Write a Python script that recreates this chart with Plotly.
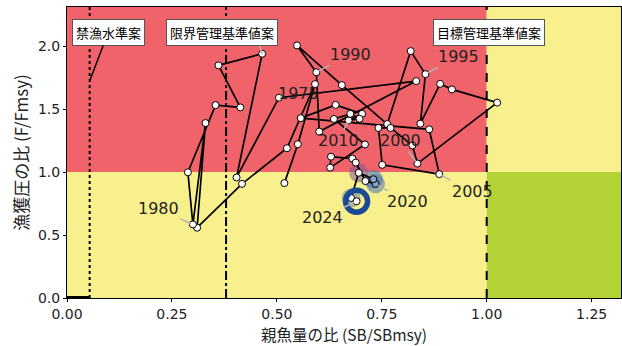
import plotly.graph_objects as go

# Kobe plot trajectory: spawning biomass ratio vs fishing pressure ratio
years = list(range(1973, 2025))
sb_ratio = [0.518, 0.550, 0.591, 0.524, 0.417, 0.310, 0.330, 0.300, 0.288, 0.354,
            0.413, 0.361, 0.465, 0.404, 0.505, 0.832, 0.601, 0.594, 0.548, 0.655,
            0.763, 0.819, 0.854, 0.842, 0.889, 0.917, 1.025, 0.835, 0.823, 0.771,
            0.742, 0.751, 0.887, 0.863, 0.557, 0.640, 0.703, 0.671, 0.697, 0.675,
            0.636, 0.710, 0.627, 0.629, 0.680, 0.688, 0.711, 0.735, 0.730, 0.695,
            0.677, 0.690]
f_ratio = [0.912, 1.221, 1.698, 1.189, 0.906, 0.558, 1.389, 0.584, 0.998, 1.531,
           1.513, 1.847, 1.939, 0.957, 1.590, 1.722, 1.321, 1.792, 2.005, 1.690,
           1.381, 1.960, 1.777, 1.384, 1.700, 1.656, 1.551, 1.067, 1.211, 1.350,
           1.350, 1.057, 0.983, 1.339, 1.428, 1.533, 1.462, 1.410, 1.423, 1.462,
           1.421, 1.219, 1.035, 1.122, 1.107, 1.075, 0.928, 0.906, 0.943, 0.994,
           0.794, 0.768]

# reference points (ratio to SBmsy)
ban_level = 0.054
limit_level = 0.379
target_level = 1.0

label_years = [1975, 1980, 1990, 1995, 2000, 2005, 2010, 2020, 2024]
label_text_pos = [(0.551, 1.627), (0.217, 0.708), (0.675, 1.934),
                  (0.932, 1.918), (0.794, 1.250), (0.965, 0.849), (0.646, 1.250),
                  (0.812, 0.763), (0.608, 0.637)]
hidden_label_year = 1985  # its label sits under the limit-reference box

recent_years = [2020, 2021, 2022, 2023]
recent_halo = ["rgba(90,125,180,0.6)", "rgba(80,120,180,0.6)",
               "rgba(125,85,155,0.55)", "rgba(100,135,165,0.55)"]
recent_fill = ["#86A3CF", "#86A3CF", "white", "white"]

XMAX, YMAX = 1.32, 2.31
RED, YELLOW, GREEN = "#F0636A", "#F8F08C", "#B3D236"

fig = go.Figure()

# background zones
zones = [(0, target_level, 1, YMAX, RED), (0, target_level, 0, 1, YELLOW),
         (target_level, XMAX, 1, YMAX, YELLOW), (target_level, XMAX, 0, 1, GREEN)]
for x0, x1, y0, y1, c in zones:
    fig.add_shape(type="rect", x0=x0, x1=x1, y0=y0, y1=y1, fillcolor=c,
                  line_width=0, layer="below")

# reference lines
fig.add_shape(type="line", x0=ban_level, x1=ban_level, y0=0, y1=YMAX,
              line=dict(color="black", width=2, dash="dot"))
fig.add_shape(type="line", x0=limit_level, x1=limit_level, y0=0, y1=YMAX,
              line=dict(color="black", width=2, dash="dashdot"))
fig.add_shape(type="line", x0=target_level, x1=target_level, y0=0, y1=YMAX,
              line=dict(color="black", width=2, dash="dash"))
fig.add_shape(type="line", x0=0, x1=ban_level, y0=0, y1=0,
              line=dict(color="black", width=4))

# halos on recent years
idx = [years.index(y) for y in recent_years]
fig.add_trace(go.Scatter(x=[sb_ratio[i] for i in idx], y=[f_ratio[i] for i in idx],
                         mode="markers", hoverinfo="skip",
                         marker=dict(size=19, color=recent_halo, line_width=0)))

# trajectory
fills = ["white"] * len(years)
for i, c in zip(idx, recent_fill):
    fills[i] = c
fig.add_trace(go.Scatter(x=sb_ratio, y=f_ratio, mode="lines+markers",
                         line=dict(color="black", width=1.7),
                         marker=dict(size=7, color=fills,
                                     line=dict(color="black", width=1))))

# latest year ring
fig.add_trace(go.Scatter(x=[sb_ratio[-1]], y=[f_ratio[-1]], mode="markers",
                         marker=dict(symbol="circle-open", size=22, color="#1B4A96",
                                     line=dict(width=5.5, color="#1B4A96"))))

font_num = "DejaVu Sans, Noto Sans CJK JP, sans-serif"
font_jp = "Noto Sans CJK JP, DejaVu Sans, sans-serif"

# year labels with leader lines
for yr, (tx, ty) in zip(label_years, label_text_pos):
    i = years.index(yr)
    fig.add_annotation(x=sb_ratio[i], y=f_ratio[i], ax=tx, ay=ty,
                       xref="x", yref="y", axref="x", ayref="y",
                       text=str(yr), showarrow=True, arrowhead=0,
                       arrowwidth=1.5, arrowcolor="#B4B4B4", standoff=3,
                       font=dict(family=font_num, size=16, color="#222222"))

# leader of the label hidden under the limit-reference box
hi = years.index(hidden_label_year)
fig.add_shape(type="line", x0=sb_ratio[hi] - 0.012, y0=2.07,
              x1=sb_ratio[hi], y1=f_ratio[hi],
              line=dict(color="#B4B4B4", width=1.5))

# reference point labels
fig.add_annotation(x=ban_level, y=1.722, ax=0.098, ay=2.107,
                   xref="x", yref="y", axref="x", ayref="y",
                   text="禁漁水準案", showarrow=True, arrowhead=0, arrowwidth=1.5,
                   arrowcolor="black", bgcolor="white", bordercolor="#555555",
                   borderwidth=1, borderpad=3,
                   font=dict(family=font_jp, size=13, color="black"))
for txt, cx in [("限界管理基準値案", 0.370), ("目標管理基準値案", 1.006)]:
    fig.add_annotation(x=cx, y=2.107, xref="x", yref="y", text=txt,
                       showarrow=False, bgcolor="white", bordercolor="#555555",
                       borderwidth=1, borderpad=3,
                       font=dict(family=font_jp, size=13, color="black"))

# x-axis title placed below the tick labels
fig.add_annotation(x=0.5, y=-0.1254, xref="paper", yref="paper",
                   xanchor="center", yanchor="middle", showarrow=False,
                   text="親魚量の比 (SB/SBmsy)",
                   font=dict(family=font_jp, size=15.5, color="#222222"))

axis_common = dict(showgrid=False, zeroline=False, showline=True, linecolor="black",
                   linewidth=1, mirror=True, ticks="outside", ticklen=3,
                   tickcolor="black", tickfont=dict(family=font_num, size=14,
                                                    color="#222222"))
fig.update_xaxes(range=[0, XMAX], tickvals=[0, 0.25, 0.5, 0.75, 1.0, 1.25],
                 ticktext=["0.00", "0.25", "0.50", "0.75", "1.00", "1.25"],
                 **axis_common)
fig.update_yaxes(range=[0, YMAX], tickvals=[0, 0.5, 1.0, 1.5, 2.0],
                 ticktext=["0.0", "0.5", "1.0", "1.5", "2.0"],
                 title=dict(text="漁獲圧の比 (F/Fmsy)", standoff=4,
                            font=dict(family=font_jp, size=17, color="#222222")),
                 **axis_common)

fig.update_layout(width=622, height=346, showlegend=False,
                  margin=dict(l=67, r=1, t=7, b=48),
                  plot_bgcolor="white", paper_bgcolor="white")

fig.write_html("out.html")
